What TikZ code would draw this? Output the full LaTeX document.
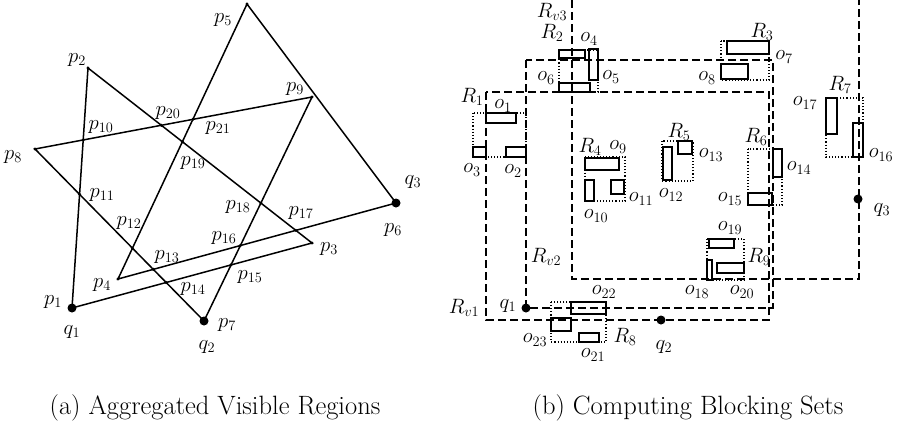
\documentclass[tikz,border=0pt]{standalone}
\usepackage{amsmath}
\begin{document}
\begin{tikzpicture}[x=1pt,y=-1pt,
  seg/.style={line width=1.5pt},
  sdot/.style={circle,fill=black,inner sep=0pt,minimum size=3.4pt},
  bdot/.style={circle,fill=black,inner sep=0pt,minimum size=9pt},
  lab/.style={inner sep=0pt,font=\fontsize{21}{24}\selectfont},
  captext/.style={inner sep=0pt,font=\fontsize{26.5}{30}\selectfont},
  vreg/.style={line width=1.6pt,dash pattern=on 8pt off 4pt},
  breg/.style={line width=1.1pt,dotted},
  obst/.style={line width=1.5pt}]
\useasboundingbox (0,0) rectangle (903,431);
% ---------------- left panel ----------------
\coordinate (p1) at (72,308);
\coordinate (p2) at (88,68);
\coordinate (p3) at (312,243);
\coordinate (p4) at (118,279);
\coordinate (p5) at (247,4);
\coordinate (p6) at (396,203);
\coordinate (p7) at (204,321);
\coordinate (p8) at (35,149);
\coordinate (p9) at (312,97);
\draw[seg] (p1) -- (p2) -- (p3) -- cycle;
\draw[seg] (p4) -- (p5) -- (p6) -- cycle;
\draw[seg] (p7) -- (p8) -- (p9) -- cycle;
\coordinate (p10) at (intersection of p1--p2 and p8--p9);
\coordinate (p11) at (intersection of p1--p2 and p7--p8);
\coordinate (p12) at (intersection of p4--p5 and p7--p8);
\coordinate (p13) at (intersection of p4--p6 and p7--p8);
\coordinate (p14) at (intersection of p1--p3 and p7--p8);
\coordinate (p15) at (intersection of p1--p3 and p7--p9);
\coordinate (p16) at (intersection of p4--p6 and p7--p9);
\coordinate (p17) at (intersection of p4--p6 and p2--p3);
\coordinate (p18) at (intersection of p2--p3 and p7--p9);
\coordinate (p19) at (intersection of p2--p3 and p4--p5);
\coordinate (p20) at (intersection of p2--p3 and p8--p9);
\coordinate (p21) at (intersection of p4--p5 and p8--p9);
\foreach \i in {2,3,4,5,8,9,10,11,12,13,14,15,16,17,18,19,20,21}
  \node[sdot] (d\i) at (p\i) {};
\node[bdot] (q1d) at (p1) {};
\node[bdot] (q2d) at (p7) {};
\node[bdot] (q3d) at (p6) {};
\node[lab] (l5) at (223,20) {$p_{5}$};
\node[lab] (l2) at (77,60) {$p_{2}$};
\node[lab] (l9) at (295,89) {$p_{9}$};
\node[lab] (l8) at (13,157) {$p_{8}$};
\node[lab] (l6) at (393,230) {$p_{6}$};
\node[lab] (lq3) at (413,182) {$q_{3}$};
\node[lab] (l3) at (329,249) {$p_{3}$};
\node[lab] (l4) at (102,285) {$p_{4}$};
\node[lab] (l1) at (53,302) {$p_{1}$};
\node[lab] (lq1) at (72,332) {$q_{1}$};
\node[lab] (l7) at (227,325) {$p_{7}$};
\node[lab] (lq2) at (207,347) {$q_{2}$};
\node[lab] (l10) at (101,127) {$p_{10}$};
\node[lab] (l20) at (168,113) {$p_{20}$};
\node[lab] (l21) at (218,128) {$p_{21}$};
\node[lab] (l19) at (193,163) {$p_{19}$};
\node[lab] (l11) at (102,195) {$p_{11}$};
\node[lab] (l12) at (129,223) {$p_{12}$};
\node[lab] (l18) at (238,207) {$p_{18}$};
\node[lab] (l17) at (301,213) {$p_{17}$};
\node[lab] (l16) at (224,238) {$p_{16}$};
\node[lab] (l13) at (167,257) {$p_{13}$};
\node[lab] (l15) at (250,277) {$p_{15}$};
\node[lab] (l14) at (193,289) {$p_{14}$};
\node[captext] (capa) at (215,408) {(a) Aggregated Visible Regions};
% ---------------- right panel ----------------
% visible regions
\draw[vreg] (486,92) rectangle (769,320);
\draw[vreg] (526,60) rectangle (773,308);
\draw[vreg] (572,0) -- (572,279) -- (859,279) -- (859,0);
\node[bdot] (rq1) at (526,308) {};
\node[bdot] (rq2) at (661,320) {};
\node[bdot] (rq3) at (858,199) {};
\node[lab] (lrq1) at (508,306) {$q_{1}$};
\node[lab] (lrq2) at (664,347) {$q_{2}$};
\node[lab] (lrq3) at (882,210) {$q_{3}$};
\node[lab] (lrv1) at (464,308) {$R_{v1}$};
\node[lab] (lrv2) at (546,257) {$R_{v2}$};
\node[lab] (lrv3) at (552,12) {$R_{v3}$};
% R1
\draw[breg] (473,113) rectangle (526,157);
\draw[obst] (486,113) rectangle (516,123);
\draw[obst] (473,147) rectangle (486,157);
\draw[obst] (506,147) rectangle (526,157);
\node[lab] (lR1) at (472,97) {$R_{1}$};
\node[lab] (lo1) at (503,106) {$o_{1}$};
\node[lab] (lo3) at (472,170) {$o_{3}$};
\node[lab] (lo2) at (513,171) {$o_{2}$};
% R2
\draw[breg] (559,50) rectangle (598,92);
\draw[obst] (559,50) rectangle (585,58);
\draw[obst] (589,49) rectangle (598,80);
\draw[obst] (559,83) rectangle (590,92);
\node[lab] (lR2) at (552,33) {$R_{2}$};
\node[lab] (lo4) at (589,39) {$o_{4}$};
\node[lab] (lo6) at (546,78) {$o_{6}$};
\node[lab] (lo5) at (611,77) {$o_{5}$};
% R3
\draw[breg] (721,41) rectangle (769,80);
\draw[obst] (727,41) rectangle (769,54);
\draw[obst] (721,64) rectangle (748,79);
\node[lab] (lR3) at (762,32) {$R_{3}$};
\node[lab] (lo7) at (784,57) {$o_{7}$};
\node[lab] (lo8) at (707,78) {$o_{8}$};
% R4
\draw[breg] (585,157) rectangle (625,201);
\draw[obst] (585,158) rectangle (619,170);
\draw[obst] (585,180) rectangle (594,201);
\draw[obst] (611,180) rectangle (624,194);
\node[lab] (lR4) at (590,147) {$R_{4}$};
\node[lab] (lo9) at (618,147) {$o_{9}$};
\node[lab] (lo10) at (596,216) {$o_{10}$};
\node[lab] (lo11) at (641,199) {$o_{11}$};
% R5
\draw[breg] (662,141) rectangle (693,181);
\draw[obst] (678,141) rectangle (692,154);
\draw[obst] (663,147) rectangle (672,180);
\node[lab] (lR5) at (679,132) {$R_{5}$};
\node[lab] (lo13) at (711,155) {$o_{13}$};
\node[lab] (lo12) at (671,195) {$o_{12}$};
% R6
\draw[breg] (748,149) rectangle (782,205);
\draw[obst] (773,149) rectangle (782,177);
\draw[obst] (748,193) rectangle (772,205);
\node[lab] (lR6) at (756,137) {$R_{6}$};
\node[lab] (lo14) at (799,168) {$o_{14}$};
\node[lab] (lo15) at (730,199) {$o_{15}$};
% R7
\draw[breg] (826,98) rectangle (863,157);
\draw[obst] (826,98) rectangle (837,134);
\draw[obst] (853,123) rectangle (863,157);
\node[lab] (lR7) at (840,85) {$R_{7}$};
\node[lab] (lo17) at (805,103) {$o_{17}$};
\node[lab] (lo16) at (881,155) {$o_{16}$};
% R8
\draw[breg] (551,302) rectangle (606,342);
\draw[obst] (571,302) rectangle (606,314);
\draw[obst] (551,318) rectangle (571,331);
\draw[obst] (579,333) rectangle (599,342);
\node[lab] (lo22) at (604,292) {$o_{22}$};
\node[lab] (lo23) at (535,340) {$o_{23}$};
\node[lab] (lR8) at (625,337) {$R_{8}$};
\node[lab] (lo21) at (593,355) {$o_{21}$};
% R9
\draw[breg] (707,239) rectangle (744,280);
\draw[obst] (709,239) rectangle (734,248);
\draw[obst] (717,263) rectangle (744,273);
\draw[obst] (707,260) rectangle (712,280);
\node[lab] (lo19) at (730,228) {$o_{19}$};
\node[lab] (lR9) at (759,257) {$R_{9}$};
\node[lab] (lo18) at (697,292) {$o_{18}$};
\node[lab] (lo20) at (742,292) {$o_{20}$};
\node[captext] (capb) at (688,408) {(b) Computing Blocking Sets};
\end{tikzpicture}
\end{document}
